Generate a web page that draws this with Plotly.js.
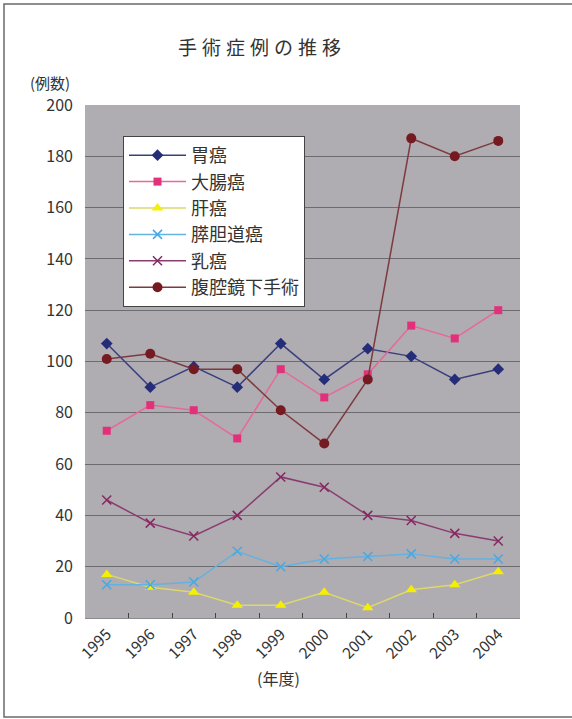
<!DOCTYPE html>
<html>
<head>
<meta charset="utf-8">
<script src="https://cdn.plot.ly/plotly-3.0.1.min.js"></script>
<style>
  html, body { margin: 0; padding: 0; background: #ffffff; }
  #chart { width: 572px; height: 719px; }
  .gtitle { letter-spacing: 5px; }
</style>
</head>
<body>
<div id="chart"></div>
<script>
// 年度
const years = ['1995', '1996', '1997', '1998', '1999', '2000', '2001', '2002', '2003', '2004'];

// 症例数（例）
const gastric      = [107, 90, 98, 90, 107, 93, 105, 102, 93, 97];     // 胃癌
const colorectal   = [73, 83, 81, 70, 97, 86, 95, 114, 109, 120];      // 大腸癌
const liver        = [17, 12, 10, 5, 5, 10, 4, 11, 13, 18];            // 肝癌
const pancreatoBil = [13, 13, 14, 26, 20, 23, 24, 25, 23, 23];         // 膵胆道癌
const breast       = [46, 37, 32, 40, 55, 51, 40, 38, 33, 30];         // 乳癌
const laparoscopic = [101, 103, 97, 97, 81, 68, 93, 187, 180, 186];    // 腹腔鏡下手術

const seriesNames = ['胃癌', '大腸癌', '肝癌', '膵胆道癌', '乳癌', '腹腔鏡下手術'];
const yTicks = [0, 20, 40, 60, 80, 100, 120, 140, 160, 180, 200];

const FONT = '"Noto Sans CJK JP", "Noto Sans", sans-serif';

function series(name, y, lineColor, marker) {
  return {
    type: 'scatter',
    mode: 'lines+markers',
    name: name,
    x: years,
    y: y,
    line: { color: lineColor, width: 1.5 },
    marker: marker,
    cliponaxis: false
  };
}

const traces = [
  series(seriesNames[0], gastric, '#3a3f7e',
    { symbol: 'diamond', size: 9, color: '#262d78' }),
  series(seriesNames[1], colorectal, '#e66a98',
    { symbol: 'square', size: 8, color: '#e3307a' }),
  series(seriesNames[2], liver, '#dcd86a',
    { symbol: 'triangle-up', size: 10, color: '#f4f000' }),
  series(seriesNames[3], pancreatoBil, '#63b2e0',
    { symbol: 'x-thin-open', size: 9, color: '#4aa8e0', line: { color: '#4aa8e0', width: 1.5 } }),
  series(seriesNames[4], breast, '#8a3c70',
    { symbol: 'x-thin-open', size: 9, color: '#86285f', line: { color: '#86285f', width: 1.5 } }),
  series(seriesNames[5], laparoscopic, '#7e3a3e',
    { symbol: 'circle', size: 10, color: '#761a22' })
];

// 外枠の位置（プロット領域基準の paper 座標）
const L = 85, R = 52, T = 105, B = 101, W = 572, H = 719;
const pw = W - L - R, ph = H - T - B;
const px = v => (v - L) / pw;
const py = v => (H - B - v) / ph;

const layout = {
  width: W,
  height: H,
  margin: { l: L, r: R, t: T, b: B, pad: 0 },
  paper_bgcolor: '#ffffff',
  plot_bgcolor: '#afacb2',
  font: { family: FONT, color: '#333333' },
  title: {
    text: '手術症例の推移',
    xref: 'container',
    yref: 'container',
    x: 262 / W,
    xanchor: 'center',
    y: 1 - 48 / H,
    yanchor: 'middle',
    font: { family: FONT, size: 19, color: '#333333' }
  },
  showlegend: true,
  legend: {
    x: px(123),
    y: py(136),
    xanchor: 'left',
    yanchor: 'top',
    bgcolor: '#ffffff',
    bordercolor: '#444444',
    borderwidth: 1,
    itemwidth: 57,
    font: { family: FONT, size: 18, color: '#333333' },
    itemclick: false
  },
  xaxis: {
    type: 'category',
    categoryorder: 'array',
    categoryarray: years,
    range: [-0.5, years.length - 0.5],
    tickson: 'boundaries',
    ticks: 'inside',
    ticklen: 5,
    tickcolor: '#444444',
    tickwidth: 1,
    tickangle: -45,
    tickfont: { family: FONT, size: 15.5, color: '#333333' },
    showgrid: false,
    showline: true,
    linecolor: '#8c8a8f',
    linewidth: 1,
    zeroline: false,
    fixedrange: true
  },
  yaxis: {
    range: [0, 200],
    tickvals: yTicks,
    ticktext: yTicks.map(String),
    ticks: '',
    ticklabelstandoff: 11,
    tickfont: { family: FONT, size: 16, color: '#333333' },
    showgrid: true,
    gridcolor: '#6c6b70',
    gridwidth: 1,
    showline: false,
    zeroline: false,
    fixedrange: true
  },
  annotations: [
    {
      text: '(例数)',
      xref: 'paper', yref: 'paper',
      x: px(50), y: py(82),
      xanchor: 'center', yanchor: 'middle',
      showarrow: false,
      font: { family: FONT, size: 15, color: '#333333' }
    },
    {
      text: '(年度)',
      xref: 'paper', yref: 'paper',
      x: px(278), y: py(678),
      xanchor: 'center', yanchor: 'middle',
      showarrow: false,
      font: { family: FONT, size: 16, color: '#333333' }
    }
  ],
  shapes: [
    {
      type: 'rect',
      xref: 'paper', yref: 'paper',
      x0: px(4), x1: px(580),
      y0: py(717), y1: py(4),
      line: { color: '#6a6a6a', width: 1.5 },
      fillcolor: 'rgba(0,0,0,0)',
      layer: 'below'
    }
  ]
};

Plotly.newPlot('chart', traces, layout, { staticPlot: true, displayModeBar: false });
</script>
</body>
</html>
